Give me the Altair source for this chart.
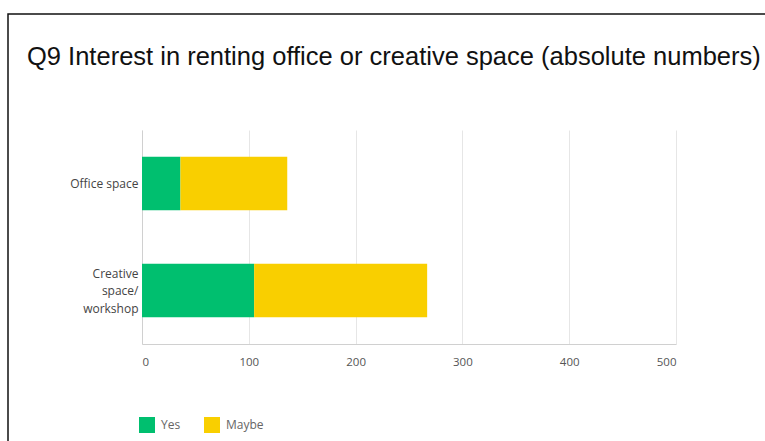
import altair as alt
import pandas as pd

categories = ["Office space", "Creative space/ workshop"]
series = ["Yes", "Maybe"]
yes_values = [36, 105]
maybe_values = [100, 162]
x_ticks = [0, 100, 200, 300, 400, 500]
colors = ["#00BF6F", "#F9CF00"]
title_text = "Q9 Interest in renting office or creative space (absolute numbers)"

rows = []
for c, y, m in zip(categories, yes_values, maybe_values):
    rows.append({"category": c, "series": "Yes", "value": y, "order": 0})
    rows.append({"category": c, "series": "Maybe", "value": m, "order": 1})
df = pd.DataFrame(rows)

FONT = "Open Sans"

bars = alt.Chart(df).mark_bar().encode(
    y=alt.Y(
        "category:N",
        sort=categories,
        title=None,
        scale=alt.Scale(paddingInner=0.5, paddingOuter=0.25),
        axis=alt.Axis(
            ticks=False,
            domainColor="#d0d0d0",
            labelColor="#444444",
            labelFont=FONT,
            labelFontSize=12,
            labelPadding=4,
            labelLineHeight=17.5,
            labelOffset={
                "condition": {"test": "datum.value == 'Creative space/ workshop'", "value": -17},
                "value": 0,
            },
            labelExpr="datum.label == 'Creative space/ workshop' ? ['Creative', 'space/', 'workshop'] : datum.label",
        ),
    ),
    x=alt.X(
        "value:Q",
        stack="zero",
        title=None,
        scale=alt.Scale(domain=[0, 500]),
        axis=alt.Axis(
            values=x_ticks,
            ticks=False,
            grid=True,
            gridColor="#e6e6e6",
            domainColor="#d0d0d0",
            labelColor="#555555",
            labelFont=FONT,
            labelFontSize=11.5,
            labelPadding=12,
            labelFlush=True,
        ),
    ),
    color=alt.Color(
        "series:N",
        sort=series,
        scale=alt.Scale(domain=series, range=colors),
        legend=alt.Legend(
            title=None,
            orient="none",
            direction="horizontal",
            legendX=-3,
            legendY=287,
            symbolType="square",
            symbolSize=256,
            symbolStrokeWidth=0,
            symbolOpacity=1,
            labelFont=FONT,
            labelFontSize=12,
            labelColor="#666666",
            labelOffset=6,
            columnPadding=23,
        ),
    ),
    order=alt.Order("order:Q"),
)

frame = alt.Chart(alt.Data(values=[{"a": 1}])).mark_rect(
    fill=None, stroke="#111111", strokeWidth=1.5
).encode(
    x=alt.value(-134),
    x2=alt.value(700),
    y=alt.value(-116),
    y2=alt.value(400),
)

chart = alt.layer(frame, bars).properties(
    width=534,
    height=214,
    autosize=alt.AutoSizeParams(type="none"),
    padding={"left": 142, "top": 130, "right": 89, "bottom": 97},
    title=alt.Title(
        title_text,
        anchor="start",
        frame="group",
        dx=-115,
        dy=57,
        offset=0,
        font="Liberation Sans",
        fontSize=25.5,
        fontWeight="normal",
        color="#111111",
    ),
).configure(background="white").configure_view(stroke=None)

chart.save("out.html", embed_options={"renderer": "svg", "actions": False})
